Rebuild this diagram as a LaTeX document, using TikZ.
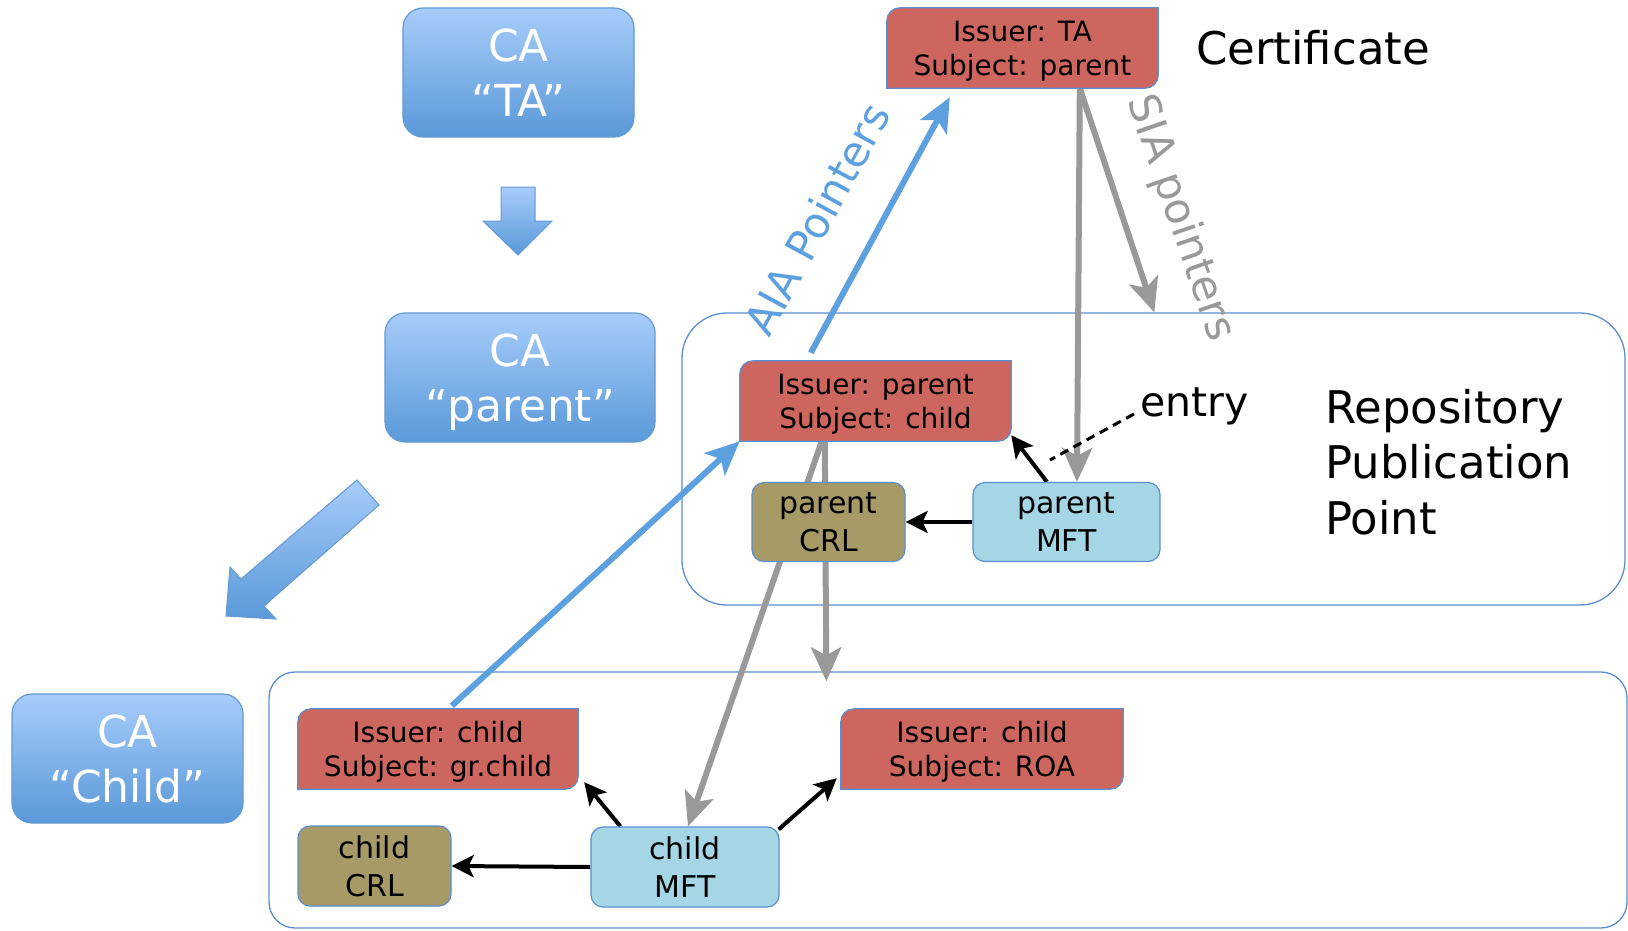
\documentclass[tikz,border=0pt]{standalone}
\usepackage{fontspec}
\setmainfont{DejaVu Sans}
\usetikzlibrary{arrows.meta}
\pgfdeclarelayer{bgboxes}
\pgfdeclarelayer{lines}
\pgfdeclarelayer{certbg}
\pgfsetlayers{bgboxes,lines,certbg,main}
\definecolor{caTop}{HTML}{A7CCFA}
\definecolor{caBot}{HTML}{5A99D9}
\definecolor{caLine}{HTML}{6399D2}
\definecolor{certRed}{HTML}{CD665F}
\definecolor{frameBlue}{HTML}{5B8ED0}
\definecolor{crlOlive}{HTML}{A69A66}
\definecolor{mftBlue}{HTML}{A5D6E6}
\definecolor{arrGray}{HTML}{999999}
\definecolor{aiaBlue}{HTML}{5DA0E0}
\newcommand{\certframe}[1]{%
  \path[certfill] ([yshift=-13pt]#1.north west) arc[start angle=180,end angle=90,radius=13pt]
    -- (#1.north east) -- ([yshift=13pt]#1.south east) arc[start angle=0,end angle=-90,radius=13pt]
    -- (#1.south west) -- cycle;}
\tikzset{
  cabox/.style={rounded corners=20pt, top color=caTop, bottom color=caBot, draw=caLine, line width=1.2pt,
    text=white, align=center, inner sep=0pt, text depth=0pt, font=\fontsize{44}{55}\selectfont},
  blockarrow/.style={top color=caTop, bottom color=caBot, draw=caLine, line width=1pt},
  cert/.style={align=center, inner sep=0pt, text depth=0pt, minimum height=80pt, font=\fontsize{28}{34}\selectfont},
  certfill/.style={fill=certRed, draw=frameBlue, line width=1.2pt},
  crl/.style={rounded corners=12pt, fill=crlOlive, draw=frameBlue, line width=1.2pt, align=center,
    inner sep=0pt, font=\fontsize{30}{38}\selectfont},
  mft/.style={crl, fill=mftBlue},
  repo/.style={rounded corners=45pt, fill=white, draw=frameBlue, line width=1.3pt, inner sep=0pt},
  biglabel/.style={inner sep=0pt, font=\fontsize{45}{55.5}\selectfont, align=left},
  rotlabel/.style={inner sep=0pt, font=\fontsize{42.5}{50}\selectfont},
  grayarrow/.style={draw=arrGray, line width=6pt, -{Stealth[length=34pt,width=30pt,inset=8pt]}},
  bluearrow/.style={draw=aiaBlue, line width=6pt, -{Stealth[length=34pt,width=30pt,inset=8pt]}},
  blackarrow/.style={draw=black, line width=4pt, -{Stealth[length=22pt,width=22pt,inset=5pt]}},
}
\begin{document}
\begin{tikzpicture}[x=1pt,y=-1pt]
\useasboundingbox (0,0) rectangle (1628,930);
% repository boxes
\begin{pgfonlayer}{bgboxes}
\node[repo, minimum width=943pt, minimum height=292pt] (rppUp) at (1153.5,459) {};
\node[repo, rounded corners=26pt, minimum width=1358pt, minimum height=256pt] (rppLow) at (948,800) {};
\end{pgfonlayer}
% CA boxes
\node[cabox, minimum width=231pt, minimum height=129pt] (caTA) at (518.5,72.5) {CA\\“TA”};
\node[cabox, minimum width=270pt, minimum height=129pt] (caParent) at (520,377.5) {CA\\“parent”};
\node[cabox, minimum width=231pt, minimum height=129pt] (caChild) at (127.5,758.5) {CA\\“Child”};
% block arrows
\shade[blockarrow] (501,187) -- (535,187) -- (535,221) -- (552,221) -- (518,255) -- (483,221) -- (501,221) -- cycle;
\shade[blockarrow] (357,480) -- (379,505) -- (264,606) -- (276,619) -- (226,616) -- (230,567) -- (241,579) -- cycle;
% certificates
\node[cert, minimum width=271pt] (certTA) at (1022.5,48) {Issuer: TA\\Subject: parent};
\node[cert, minimum width=271pt] (certPC) at (875.5,401) {Issuer: parent\\Subject: child};
\node[cert, minimum width=280pt] (certGC) at (438,749) {Issuer: child\\Subject: gr.child};
\node[cert, minimum width=282pt] (certROA) at (982,749) {Issuer: child\\Subject: ROA};
\begin{pgfonlayer}{certbg}
\certframe{certTA}
\certframe{certPC}
\certframe{certGC}
\certframe{certROA}
\end{pgfonlayer}
% CRL and MFT
\node[crl, minimum width=153pt, minimum height=79pt] (parentCRL) at (828.5,522) {parent\\CRL};
\node[mft, minimum width=187pt, minimum height=79pt] (parentMFT) at (1066.5,522) {parent\\MFT};
\node[crl, minimum width=153pt, minimum height=80pt] (childCRL) at (374.5,866) {child\\CRL};
\node[mft, minimum width=188pt, minimum height=80pt] (childMFT) at (685,867) {child\\MFT};
% labels
\node[biglabel, anchor=base west] (certLabel) at (1196,64) {Certificate};
\node[biglabel, anchor=north west] (rppLabel) at (1325,389) {Repository\\Publication\\Point};
\node[inner sep=0pt, font=\fontsize{41}{50}\selectfont, anchor=base west] (entry) at (1140,416) {entry};
\node[rotlabel, text=arrGray, rotate=-71] (siaLabel) at (1180,218) {SIA pointers};
\node[rotlabel, text=aiaBlue, rotate=61.5] (aiaLabel) at (817,219) {AIA Pointers};
\coordinate (entryEnd) at (1050,460);
% connectors
\begin{pgfonlayer}{lines}
\draw[grayarrow] ([xshift=193pt]certTA.south west) -- ([xshift=10.5pt]parentMFT.north);
\draw[grayarrow] ([xshift=193pt]certTA.south west) -- ([xshift=473pt]rppUp.north west);
\draw[grayarrow] ([xshift=85pt]certPC.south west) -- ([xshift=558pt,yshift=-10pt]rppLow.north west);
\draw[grayarrow] ([xshift=82pt]certPC.south west) -- ([xshift=3pt]childMFT.north);
\draw[bluearrow] ([xshift=71pt,yshift=8pt]certPC.north west) -- ([xshift=63pt,yshift=-9pt]certTA.south west);
\draw[bluearrow] ([xshift=154pt,yshift=3pt]certGC.north west) -- (certPC.south west);
\draw[blackarrow] ([xshift=-19.5pt]parentMFT.north) -- ([yshift=6pt]certPC.south east);
\draw[blackarrow] (parentMFT.west) -- (parentCRL.east);
\draw[blackarrow] (childMFT.west) -- (childCRL.east);
\draw[blackarrow] ([xshift=30pt]childMFT.north west) -- ([xshift=6pt,yshift=7pt]certGC.south east);
\draw[blackarrow] ([xshift=-1pt,yshift=-3pt]childMFT.north east) -- ([xshift=-4pt,yshift=11pt]certROA.south west);
\draw[black, line width=3pt, dash pattern=on 9pt off 6pt] ([xshift=-6pt,yshift=2pt]entry.base west) -- (entryEnd);
\end{pgfonlayer}
\end{tikzpicture}
\end{document}
